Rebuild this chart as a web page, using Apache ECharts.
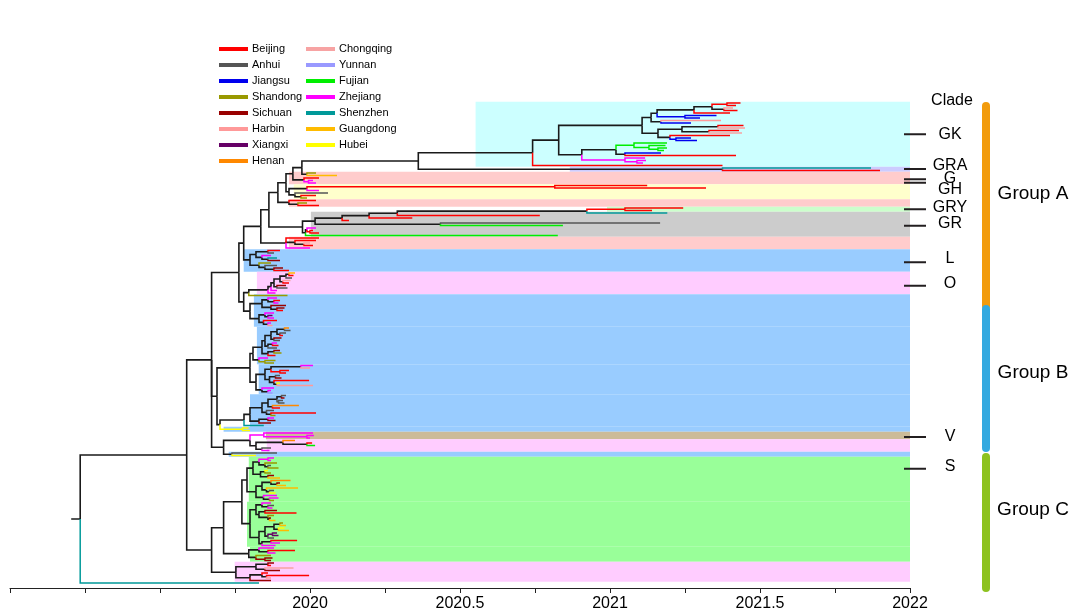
<!DOCTYPE html>
<html><head><meta charset="utf-8">
<script src="https://cdn.jsdelivr.net/npm/echarts@6/dist/echarts.min.js"></script>
<style>html,body{margin:0;padding:0;background:#fff}#c{width:1073px;height:612px}</style>
</head><body><div id="c"></div>
<script>
// ---------------- DATA ----------------
const provinces = ['Beijing','Anhui','Jiangsu','Shandong','Sichuan','Harbin','Xiangxi','Henan','Chongqing','Yunnan','Fujian','Zhejiang','Shenzhen','Guangdong','Hubei'];
const provinceCodes = ['b','a','j','s','c','h','x','n','q','y','f','z','e','g','u'];
const provinceColors = ['#ff0000','#555555','#0000ee','#999900','#990000','#ff9999','#660066','#ff8800','#f7a3a3','#9999ff','#00ee00','#ff00ff','#009999','#ffbb00','#ffff00'];

// subtrees (Newick-like, leaf = province code : tip date, internal node ":" = node date)
const GK_UP1 = "((((b:2021.435,b:2021.42):2021.39,(h:2021.41,b:2021.425):2021.38):2021.34,b:2021.40):2021.28,(j:2021.355,j:2021.30):2021.25):2021.157";
const GK_UP2 = "(h:2021.37,j:2021.27):2021.17";
const GK_LOW = "(((b:2021.445,h:2021.45):2021.36,(b:2021.43,q:2021.44):2021.33):2021.24,(b:2021.40,(j:2021.27,j:2021.29):2021.22):2021.20):2021.16";
const GK_FJ = "((f:2021.19,(f:2021.185,(f:2021.19,f:2021.18):2021.16):2021.13):2021.08,(j:2021.17,b:2021.42):2021.05):2021.02";
const GK_ZJ = "(z:2021.117,(z:2021.12,z:2021.11):2021.09):2021.05";
const GK = `((((${GK_UP1},${GK_UP2}):2021.137,${GK_LOW}):2021.107,(${GK_FJ},${GK_ZJ}):2020.906):2020.829,b:2021.375):2020.742`;
const GRA = "(e:2021.87,b:2021.90):2021.375";
const G1 = "(s:2020.02,g:2020.09):2019.99";
const G2 = "(b:2020.03,(z:2020.01,z:2020.02):2019.995):2019.98";
const GH = "(((b:2021.124,b:2021.32):2020.816,z:2020.03):2019.99,(a:2020.06,(b:2020.02,s:2019.99):2019.97):2019.95):2019.93";
const P39 = "(b:2020.02,(s:2019.99,b:2020.03):2019.96):2019.93";
const GR_TOP = "(((((b:2021.244,b:2021.14):2021.05,e:2021.191):2020.923,b:2020.766):2020.291,b:2020.341):2020.197,b:2020.13):2020.107";
const GR_MID = "(a:2021.167,f:2020.843):2020.435";
const GR_LOW = "((z:2020.02,(b:2020.01,b:2020.03):2020.0):2019.99,f:2020.826):2019.985";
const GR = `((${GR_TOP},${GR_MID}):2020.017,${GR_LOW}):2019.975`;
const P54 = "(b:2020.03,(b:2020.02,(q:2020.0,b:2020.01):2019.98):2019.95,z:2020.0):2019.92";
const GROUP_A = `(((((((${GK},${GRA}):2020.361,${G1}):2019.973,${G2}):2019.943,${GH}):2019.92,${P39}):2019.893,${GR}):2019.863,${P54}):2019.836`;

const L = "(((b:2019.90,a:2019.88):2019.86,(z:2019.87,(e:2019.89,c:2019.90):2019.86):2019.84):2019.82,(s:2019.87,(a:2019.89,(c:2019.91,b:2019.93):2019.88):2019.85):2019.83):2019.80";
const O = "((((((g:2019.95,b:2019.945):2019.93,a:2019.94):2019.92,(q:2019.935,b:2019.93):2019.91):2019.90,(c:2019.92,a:2019.925):2019.89):2019.88,z:2019.89):2019.87,z:2019.885):2019.86";
const B_UP = "(((z:2019.89,(b:2019.90,z:2019.895):2019.88):2019.86,(c:2019.92,(c:2019.915,b:2019.91):2019.89):2019.87):2019.84,((z:2019.88,(x:2019.875,z:2019.88):2019.86):2019.85,(b:2019.89,(z:2019.87,h:2019.875):2019.86):2019.845):2019.83):2019.80";
const B_MID = "((((((n:2019.93,a:2019.935):2019.915,(a:2019.92,b:2019.91):2019.90):2019.89,(c:2019.905,a:2019.90):2019.88):2019.87,((z:2019.89,b:2019.895):2019.875,a:2019.89):2019.86):2019.85,((c:2019.90,s:2019.905):2019.88,b:2019.885):2019.86):2019.84,(z:2019.86,(s:2019.885,s:2019.88):2019.85):2019.83):2019.81";
const B_L1 = "((((z:2020.01,h:2020.0):2019.97,(b:2019.93,b:2019.92):2019.90):2019.87,((a:2019.90,c:2019.905):2019.885,(b:2019.997,(u:2019.90,h:2020.01):2019.89):2019.88):2019.865):2019.85,(z:2019.88,(z:2019.87,y:2019.875):2019.86):2019.84):2019.82";
const B_L2 = "((((((a:2019.92,c:2019.915):2019.905,(a:2019.91,a:2019.915):2019.895):2019.89,(n:2019.963,b:2019.90):2019.875):2019.86,(a:2019.88,(b:2020.02,s:2019.885):2019.87):2019.855):2019.84,((z:2019.88,c:2019.885):2019.86,c:2019.87):2019.83):2019.80,e:2019.846):2019.78";
const HUBEI_PAIR = "(u:2019.795,u:2019.80):2019.775";
const V = "(z:2020.01,(z:2020.013,z:2020.0):2019.99):2019.846";
const P135 = "((n:2019.95,(b:2020.007,f:2020.017):2019.99):2019.91,(a:2019.87,z:2019.865):2019.84):2019.82";
const B_SMALL = "(a:2019.89,u:2019.82):2019.74";
const GROUP_AB = `(((${GROUP_A},${L}):2019.779,((${O},s:2019.925):2019.796,${B_UP}):2019.779):2019.763,((${B_MID},${B_L1}):2019.80,(${B_L2},${HUBEI_PAIR}):2019.70):2019.69,((${V},${P135}):2019.80,${B_SMALL}):2019.712):2019.672`;

const S1A = "(((z:2019.88,z:2019.87):2019.86,(s:2019.89,(a:2019.87,s:2019.895):2019.86):2019.85):2019.83,((u:2019.86,s:2019.87):2019.85,(c:2019.88,g:2019.90):2019.86):2019.835):2019.81";
const S1B = "(((n:2019.935,(c:2019.90,g:2019.92):2019.89):2019.87,(g:2019.96,(a:2019.88,u:2019.885):2019.865):2019.855):2019.84,(z:2019.89,(z:2019.895,s:2019.88):2019.865):2019.845):2019.82";
const S2A = "((z:2019.87,(a:2019.88,z:2019.875):2019.86):2019.84,((c:2019.89,b:2019.955):2019.85,(s:2019.88,(c:2019.87,g:2019.885):2019.865):2019.86):2019.83):2019.82";
const S2B = "((((s:2019.91,g:2019.92):2019.90,(u:2019.915,g:2019.93):2019.895):2019.88,((x:2019.89,x:2019.895):2019.875,a:2019.88):2019.86):2019.85,((b:2019.957,z:2019.90):2019.87,z:2019.885):2019.84):2019.83";
const S3 = "((z:2019.88,(b:2019.95,z:2019.885):2019.86):2019.83,(s:2019.87,(c:2019.875,c:2019.87):2019.85):2019.82):2019.796";
const PB = "(((c:2019.88,b:2019.87):2019.86,(q:2019.945,c:2019.90):2019.85):2019.82,((b:2019.86,(b:2019.997,h:2019.87):2019.855):2019.84,c:2019.87):2019.80):2019.753";
const GROUP_C = `((((${S1A},${S1B}):2019.79,(${S2A},${S2B}):2019.80):2019.773,${S3}):2019.712,${PB}):2019.672`;

const TREE = `((${GROUP_AB},${GROUP_C}):2019.589,e:2019.83):2019.234`;
const rootEdgeStart = 2019.204;

// background clade bands: [first row, last row], start date, colour
const bandRows  = [[0,25],[26,27],[28,32],[33,38],[39,41],[42,43],[44,53],[54,58],[59,67],[68,76],[77,89],[90,104],[105,116],[117,129],[130,131],[132,134],[135,139],[140,141],[142,159],[160,177],[178,183],[184,191]];
const bandStart = [2020.552,2020.866,2019.930,2019.946,2019.930,2020.99,2020.003,2019.930,2019.779,2019.823,2019.813,2019.823,2019.829,2019.80,2019.712,2019.853,2019.856,2019.729,2019.796,2019.79,2019.80,2019.749];
const bandColor = ['#ccffff','#ccccff','#ffcccc','#ffffcc','#ffcccc','#ccffcc','#cccccc','#ffcccc','#99ccff','#ffccff','#99ccff','#99ccff','#99ccff','#99ccff','#99ccff','#ccbb99','#ffccff','#99ccff','#99ff99','#99ff99','#99ff99','#ffccff'];

// clade labels
const cladeNames = ['GK','GRA','G','GH','GRY','GR','L','O','V','S'];
const cladeLineRows = [12.5,26.4,30.5,31.9,42.5,49.1,63.7,73.1,133.6,146.3];
const cladeTextRows = [12.8,25.2,30.1,34.8,41.9,48.1,62.4,72.4,133.6,145.6];
// groups
const groupNames = ['Group A','Group B','Group C'];
const groupRows = [[1.2,81.2],[82.4,138],[141.6,194]];
const groupLabelRows = [36.4,108,162.8];
const groupColors = ['#f29b0c','#33a9e0','#8dc21f'];
const xTickLabels = [2020,2020.5,2021,2021.5,2022];

// ---------------- TREE PARSE / LAYOUT ----------------
function parse(str){
  let i=0;
  function num(){const m=/^[0-9.]+/.exec(str.slice(i)); if(!m) throw new Error('num at '+i); i+=m[0].length; return parseFloat(m[0]);}
  function node(){
    if(str[i]==='('){
      i++; const kids=[node()];
      while(str[i]===','){i++; kids.push(node());}
      if(str[i]!==')') throw new Error('expected ) at '+i); i++;
      if(str[i]!==':') throw new Error('expected : at '+i); i++;
      return {kids, t:num()};
    }
    const code=str[i]; i++;
    if(str[i]!==':') throw new Error('expected : at '+i); i++;
    return {code, t:num()};
  }
  const r=node(); if(i!==str.length) throw new Error('trailing at '+i); return r;
}
const root = parse(TREE);
let leafRow = 0;
(function layout(n){
  if(!n.kids){ n.y = leafRow++; n.state = n.code; return; }
  n.kids.forEach(layout);
  n.y = (n.kids[0].y + n.kids[n.kids.length-1].y)/2;
  const s = n.kids[0].state;
  n.state = n.kids.every(k=>k.state===s) ? s : null;
})(root);

const internalEdges = [[ [rootEdgeStart, root.y], [root.t, root.y] ]];
const provEdges = provinceCodes.map(()=>[]);
(function edges(n){
  if(!n.kids) return;
  n.kids.forEach(k=>{
    const c=[[n.t,n.y],[n.t,k.y],[k.t,k.y]];
    if(k.state) provEdges[provinceCodes.indexOf(k.state)].push(c); else internalEdges.push(c);
    edges(k);
  });
})(root);

// ---------------- CHART ----------------
const FONT = "'Liberation Sans', Arial, sans-serif";
const chart = echarts.init(document.getElementById('c'), null, {renderer:'canvas'});
const series = [];
series.push({
  type:'custom', name:'bands', xAxisIndex:0, yAxisIndex:0, z:1, silent:true,
  data: bandRows.map((r,i)=>[bandStart[i], r[0]-0.5, r[1]+0.5]),
  renderItem(params, api){
    const p1 = api.coord([api.value(0), api.value(1)]);
    const p2 = api.coord([2022, api.value(2)]);
    return {type:'rect', shape:{x:p1[0], y:p1[1], width:p2[0]-p1[0], height:p2[1]-p1[1]}, style:{fill:bandColor[params.dataIndex]}};
  }
});
series.push({
  type:'lines', name:'internal', coordinateSystem:'cartesian2d', xAxisIndex:0, yAxisIndex:0, polyline:true, z:3, silent:true,
  lineStyle:{color:'#1a1a1a', width:1.6, opacity:1},
  data: internalEdges.map(c=>({coords:c}))
});
provinces.forEach((p,i)=>{
  series.push({
    type:'lines', name:p, coordinateSystem:'cartesian2d', xAxisIndex:0, yAxisIndex:0, polyline:true, z:4, silent:true,
    itemStyle:{color:provinceColors[i]},
    lineStyle:{color:provinceColors[i], width:1.5, opacity:1},
    data: provEdges[i].map(c=>({coords:c}))
  });
});
series.push({
  type:'custom', name:'clades', xAxisIndex:1, yAxisIndex:1, z:5, silent:true,
  data: cladeNames.map((n,i)=>[cladeLineRows[i], cladeTextRows[i]]),
  renderItem(params, api){
    const i = params.dataIndex;
    const a = api.coord([-6, cladeLineRows[i]]);
    const b = api.coord([16, cladeLineRows[i]]);
    const t = api.coord([40, cladeTextRows[i]]);
    return {type:'group', children:[
      {type:'line', shape:{x1:a[0],y1:a[1],x2:b[0],y2:b[1]}, style:{stroke:'#231f20', lineWidth:2}},
      {type:'text', x:t[0], y:t[1], style:{text:cladeNames[i], fontSize:16, fontFamily:FONT, fill:'#000', align:'center', verticalAlign:'middle'}}
    ]};
  }
});
series.push({
  type:'custom', name:'cladeHeader', xAxisIndex:1, yAxisIndex:1, z:5, silent:true,
  data: [[42, -0.8]],
  renderItem(params, api){
    const t = api.coord([42, -0.8]);
    return {type:'text', x:t[0], y:t[1], style:{text:'Clade', fontSize:16, fontFamily:FONT, fill:'#000', align:'center', verticalAlign:'middle'}};
  }
});
series.push({
  type:'custom', name:'groups', xAxisIndex:1, yAxisIndex:1, z:5, silent:true,
  data: groupRows.map(r=>[76, r[0]]),
  renderItem(params, api){
    const i = params.dataIndex;
    const a = api.coord([76, groupRows[i][0]]);
    const b = api.coord([76, groupRows[i][1]]);
    const t = api.coord([123, groupLabelRows[i]]);
    return {type:'group', children:[
      {type:'line', shape:{x1:a[0],y1:a[1],x2:b[0],y2:b[1]}, style:{stroke:groupColors[i], lineWidth:8, lineCap:'round'}},
      {type:'text', x:t[0], y:t[1], style:{text:groupNames[i], fontSize:19, fontFamily:FONT, fill:'#000', align:'center', verticalAlign:'middle'}}
    ]};
  }
});

function legendCfg(names, left){
  return {
    show:true, orient:'vertical', left, top:38, itemWidth:27, itemHeight:2, itemGap:4, selectedMode:false,
    textStyle:{fontSize:11, lineHeight:12, color:'#000', fontFamily:FONT},
    data: names.map(n=>({name:n, icon:'rect', itemStyle:{color:provinceColors[provinces.indexOf(n)]}}))
  };
}

chart.setOption({
  animation:false,
  backgroundColor:'#fff',
  textStyle:{fontFamily:FONT},
  legend:[legendCfg(provinces.slice(0,8), 214), legendCfg(provinces.slice(8), 301)],
  grid:[{left:10, top:100, width:900, height:488}, {left:910, top:100, width:163, height:488}],
  xAxis:[
    {gridIndex:0, type:'value', position:'bottom', min:2019, max:2022, interval:0.25,
     axisLine:{show:true, onZero:false, lineStyle:{color:'#222', width:1}},
     axisTick:{show:true, length:5, lineStyle:{color:'#222'}},
     splitLine:{show:false},
     axisLabel:{show:true, fontSize:16, color:'#000', margin:8, hideOverlap:false, showMinLabel:true, showMaxLabel:true,
       formatter:v=>{const k=xTickLabels.find(x=>Math.abs(x-v)<1e-6); return k===undefined?'':String(k);}}},
    {gridIndex:1, type:'value', min:0, max:163, show:false}
  ],
  yAxis:[
    {gridIndex:0, type:'value', min:-1.2, max:194, inverse:true, show:false},
    {gridIndex:1, type:'value', min:-1.2, max:194, inverse:true, show:false}
  ],
  series
});
</script></body></html>
